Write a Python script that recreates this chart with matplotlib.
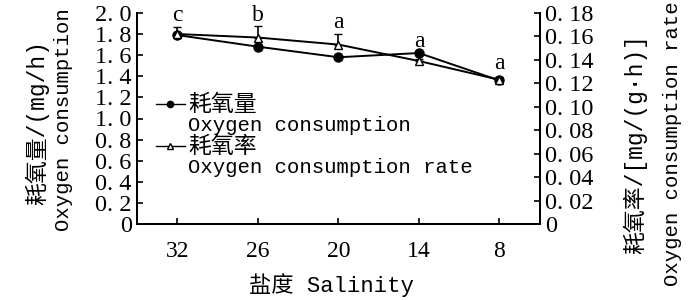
"""Oxygen consumption vs salinity, dual axis."""

import matplotlib

matplotlib.use("Agg")

import matplotlib.pyplot as plt
from matplotlib.lines import Line2D

salinity = ["32", "26", "20", "14", "8"]
consumption = [1.79, 1.68, 1.58, 1.62, 1.36]
rate = [0.162, 0.159, 0.153, 0.139, 0.123]
rate_err = [0.006, 0.010, 0.009, 0.002, 0.002]
letters = ["c", "b", "a", "a", "a"]
letter_y = [1.92, 1.92, 1.86, 1.68, 1.47]

left_ticks = [0, 0.2, 0.4, 0.6, 0.8, 1.0, 1.2, 1.4, 1.6, 1.8, 2.0]
left_labels = ["0", "0. 2", "0. 4", "0. 6", "0. 8", "1. 0", "1. 2", "1. 4", "1. 6", "1. 8", "2. 0"]
right_ticks = [0, 0.02, 0.04, 0.06, 0.08, 0.10, 0.12, 0.14, 0.16, 0.18]
right_labels = ["0", "0. 02", "0. 04", "0. 06", "0. 08", "0. 10", "0. 12", "0. 14", "0. 16", "0. 18"]

SERIF = "Liberation Serif"
MIX = ["Liberation Mono", "Noto Sans CJK SC"]
FS_TICK = 17.5
FS_LAT = 14.9
FS_CJK = 16.5

fig = plt.figure(figsize=(7, 3), dpi=100)
ax = fig.add_axes([0.196, 0.253, 0.575, 0.704])
ax2 = ax.twinx()

x = list(range(len(salinity)))

ax.plot(x, consumption, color="black", linewidth=1.4, marker="o", markersize=6.5, zorder=3)
ax2.errorbar(
    x, rate, yerr=[[0] * len(rate_err), rate_err],
    color="black", linewidth=1.4, marker="^", markersize=6,
    markerfacecolor="white", markeredgecolor="black", capsize=3, elinewidth=1.2,
)

for xi, lab, ly in zip(x, letters, letter_y):
    ax.text(xi, ly, lab, ha="center", va="baseline", fontsize=17, family=SERIF)

ax.set_xlim(-0.5, 4.5)
ax.set_ylim(0, 2.0)
ax2.set_ylim(0, 0.18)

ax.set_xticks(x)
ax.set_xticklabels(salinity, fontsize=17, family=SERIF)
ax.set_yticks(left_ticks)
ax.set_yticklabels(left_labels, fontsize=FS_TICK, family=SERIF)
ax2.set_yticks(right_ticks)
ax2.set_yticklabels(right_labels, fontsize=FS_TICK, family=SERIF)

for a in (ax, ax2):
    a.spines["top"].set_visible(False)
    for s in a.spines.values():
        s.set_linewidth(1.4)
ax.tick_params(axis="both", direction="in", length=4, width=1.2, pad=4)
ax2.tick_params(axis="y", direction="in", length=4, width=1.2, pad=4)
ax.tick_params(axis="x", pad=12)

# axis titles: Chinese line and English line set separately
fig.text(0.473, 0.05, "盐度 Salinity", fontsize=16, family=MIX, ha="center", va="center")
fig.text(0.053, 0.59, "耗氧量/(mg/h)", fontsize=FS_CJK, family=MIX,
         rotation=90, ha="center", va="center")
fig.text(0.091, 0.60, "Oxygen consumption", fontsize=FS_LAT, family=MIX,
         rotation=90, ha="center", va="center")
fig.text(0.907, 0.52, "耗氧率/[mg/(g·h)]", fontsize=FS_CJK, family=MIX,
         rotation=90, ha="center", va="center")
fig.text(0.961, 0.52, "Oxygen consumption rate", fontsize=FS_LAT, family=MIX,
         rotation=90, ha="center", va="center")

blank = Line2D([], [], linestyle="none")
handles = [
    Line2D([], [], color="black", linewidth=1.0, marker="o", markersize=4.5),
    blank,
    Line2D([], [], color="black", linewidth=1.0, marker="^", markersize=4.5,
           markerfacecolor="white"),
    blank,
]
labels = ["耗氧量", "Oxygen consumption", "耗氧率", "Oxygen consumption rate"]
leg = ax.legend(handles, labels, loc="upper left", bbox_to_anchor=(0.0, 0.71),
                frameon=False, handlelength=1.4, handletextpad=0.15,
                labelspacing=0.0, borderaxespad=0.5,
                prop={"family": MIX, "size": FS_LAT})
for t in leg.get_texts()[0::2]:
    t.set_fontsize(FS_CJK)

fig.savefig("out.png", dpi=100)
plt.close(fig)
